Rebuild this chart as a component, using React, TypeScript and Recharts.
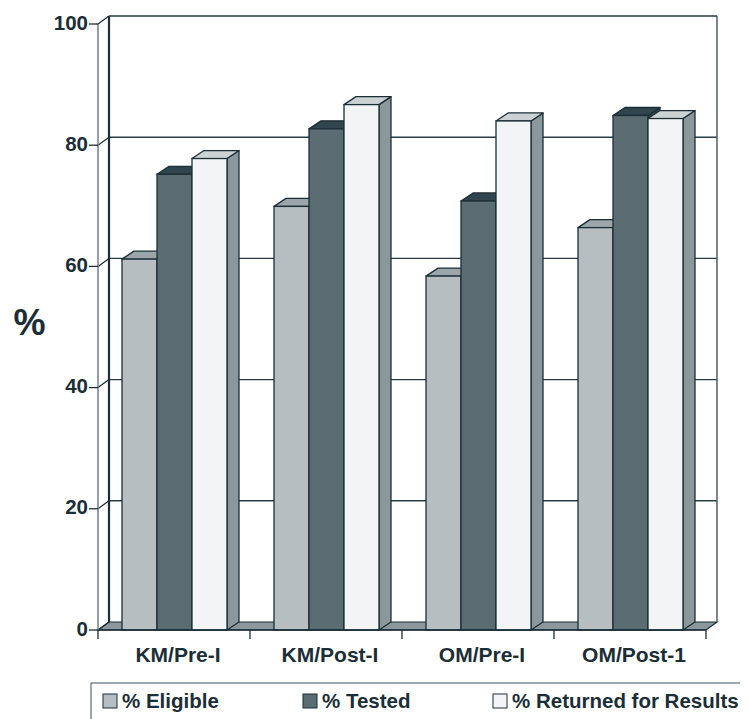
import React from 'react';
import { BarChart, Bar, XAxis, YAxis, CartesianGrid, Legend } from 'recharts';

// ---- data ----
const categories = ['KM/Pre-I', 'KM/Post-I', 'OM/Pre-I', 'OM/Post-1'];
const eligible = [61.2, 69.9, 58.4, 66.4];
const tested = [75.2, 82.7, 70.8, 84.9];
const returned = [77.8, 86.7, 84.0, 84.4];
const yTicks = [0, 20, 40, 60, 80, 100];
const seriesKeys = ['eligible', 'tested', 'returned'];
const seriesNames = ['% Eligible', '% Tested', '% Returned for Results'];

const data = categories.map((c, i) => ({
  cat: c,
  eligible: eligible[i],
  tested: tested[i],
  returned: returned[i],
}));

// ---- layout (chart sits at the body's 8px margin) ----
const OFF = 8;
const W = 748 - OFF;
const H = 719 - OFF;
const PLOT_LEFT = 98 - OFF;
const PLOT_RIGHT = 706 - OFF;
const PLOT_TOP = 24 - OFF;
const PLOT_BOTTOM = 630 - OFF;
const Y_AXIS_W = 60;
const X_AXIS_H = 40;
const WALL_DX = 11;
const WALL_DY = 8;
const BAR_DX = 12;
const BAR_DY = 8;
const INK = '#1b2e36';
const FONT = '"Liberation Sans", Arial, Helvetica, sans-serif';

const palette: Record<string, { front: string; top: string; side: string }> = {
  eligible: { front: '#b6bec1', top: '#9ca6aa', side: '#8a9499' },
  tested: { front: '#5b6c73', top: '#30454d', side: '#30454d' },
  returned: { front: '#f3f4f6', top: '#ccd2d4', side: '#8c979c' },
};

const make3D = (c: { front: string; top: string; side: string }) => (props: any) => {
  const { x, y, width: w, height: h } = props;
  if (x == null || y == null || !w || h == null) return <g />;
  const top = `${x},${y} ${x + BAR_DX},${y - BAR_DY} ${x + w + BAR_DX},${y - BAR_DY} ${x + w},${y}`;
  const side = `${x + w},${y} ${x + w + BAR_DX},${y - BAR_DY} ${x + w + BAR_DX},${y + h - BAR_DY} ${x + w},${y + h}`;
  return (
    <g>
      <polygon points={side} fill={c.side} stroke={INK} strokeWidth={1.3} strokeLinejoin="round" />
      <polygon points={top} fill={c.top} stroke={INK} strokeWidth={1.3} strokeLinejoin="round" />
      <rect x={x} y={y} width={w} height={h} fill={c.front} stroke={INK} strokeWidth={1.3} />
    </g>
  );
};

const gridLine = (p: any) => {
  const { x1, x2, y1, index } = p;
  const gy = typeof p.y === 'number' ? p.y : PLOT_TOP;
  const gh = typeof p.height === 'number' ? p.height : PLOT_BOTTOM - PLOT_TOP;
  const isTop = Math.abs(y1 - gy) < 0.5;
  const isBottom = Math.abs(y1 - (gy + gh)) < 0.5;
  const bx1 = x1 + WALL_DX;
  const bx2 = x2 + WALL_DX;
  const by = y1 - WALL_DY;
  return (
    <g key={`gl-${index}-${y1}`}>
      {isBottom && (
        <polygon
          points={`${x1},${y1} ${bx1},${by} ${bx2},${by} ${x2},${y1}`}
          fill="#8c979c"
          stroke={INK}
          strokeWidth={1.2}
        />
      )}
      {isTop && (
        <g>
          <line x1={bx1} y1={by} x2={bx1} y2={by + gh} stroke={INK} strokeWidth={2.2} />
          <line x1={bx2} y1={by} x2={bx2} y2={by + gh} stroke="#4d5f67" strokeWidth={1.5} />
        </g>
      )}
      {!isBottom && <line x1={bx1} y1={by} x2={bx2} y2={by} stroke="#2a3c44" strokeWidth={1.4} />}
      <line x1={x1} y1={y1} x2={bx1} y2={by} stroke={INK} strokeWidth={1.2} />
    </g>
  );
};

const YTick = (p: any) => {
  const { y, payload } = p;
  return (
    <g>
      <line x1={PLOT_LEFT - 9} y1={y} x2={PLOT_LEFT} y2={y} stroke={INK} strokeWidth={1.3} />
      <text
        x={PLOT_LEFT - 10}
        y={y + 5.5}
        textAnchor="end"
        fontFamily={FONT}
        fontWeight="bold"
        fontSize={20.5}
        fill={INK}
      >
        {payload.value}
      </text>
    </g>
  );
};

const XTick = (p: any) => {
  const { x, payload } = p;
  const y = PLOT_BOTTOM;
  const band = (PLOT_RIGHT - PLOT_LEFT) / categories.length;
  const isLast = payload.value === categories[categories.length - 1];
  return (
    <g>
      <line x1={x - band / 2} y1={y} x2={x - band / 2} y2={y + 9} stroke={INK} strokeWidth={1.3} />
      {isLast && <line x1={x + band / 2} y1={y} x2={x + band / 2} y2={y + 9} stroke={INK} strokeWidth={1.3} />}
      <text x={x + 4} y={y + 32} textAnchor="middle" fontFamily={FONT} fontWeight="bold" fontSize={21} fill={INK}>
        {payload.value}
      </text>
    </g>
  );
};

const legendX = [103 - OFF, 303 - OFF, 493 - OFF];
const LegendBox = () => (
  <svg width={W} height={40} style={{ position: 'absolute', left: 0, top: 0, overflow: 'visible' }}>
    <rect x={91 - OFF} y={3} width={W * 2} height={80} fill="#fff" stroke="#5e6f77" strokeWidth={1.2} />
    {seriesKeys.map((k, i) => (
      <g key={k}>
        <rect x={legendX[i]} y={14} width={14} height={14} fill={palette[k].front} stroke={INK} strokeWidth={1} />
        <text x={legendX[i] + 19} y={28} fontFamily={FONT} fontWeight="bold" fontSize={20.5} fill={INK}>
          {seriesNames[i]}
        </text>
      </g>
    ))}
  </svg>
);

const PercentLabel = () => (
  <text x={29.5 - OFF} y={335 - OFF} textAnchor="middle" fontFamily={FONT} fontWeight="bold" fontSize={36} fill={INK}>
    %
  </text>
);

export default function App() {
  return (
    <div style={{ width: W, height: H, position: 'relative', background: '#fff' }}>
      <BarChart
        width={W}
        height={H}
        data={data}
        margin={{ top: PLOT_TOP, right: W - PLOT_RIGHT, left: PLOT_LEFT - Y_AXIS_W, bottom: H - PLOT_BOTTOM - X_AXIS_H }}
        barCategoryGap={24}
        barGap={0}
      >
        <CartesianGrid vertical={false} horizontal={gridLine} fill="none" />
        <XAxis
          dataKey="cat"
          height={X_AXIS_H}
          tickLine={false}
          tickSize={0}
          tickMargin={0}
          tick={<XTick />}
          interval={0}
          axisLine={{ stroke: INK, strokeWidth: 1.5 }}
        />
        <YAxis
          width={Y_AXIS_W}
          domain={[0, 100]}
          ticks={yTicks}
          interval={0}
          tickLine={false}
          axisLine={{ stroke: '#6f8088', strokeWidth: 1.5 }}
          tick={<YTick />}
          label={{ content: <PercentLabel /> }}
        />
        <Legend content={<LegendBox />} wrapperStyle={{ left: 0, top: 680 - OFF, width: W, height: 0 }} />
        <Bar dataKey="eligible" name={seriesNames[0]} fill={palette.eligible.front} shape={make3D(palette.eligible)} isAnimationActive={false} />
        <Bar dataKey="tested" name={seriesNames[1]} fill={palette.tested.front} shape={make3D(palette.tested)} isAnimationActive={false} />
        <Bar dataKey="returned" name={seriesNames[2]} fill={palette.returned.front} shape={make3D(palette.returned)} isAnimationActive={false} />
      </BarChart>
    </div>
  );
}
